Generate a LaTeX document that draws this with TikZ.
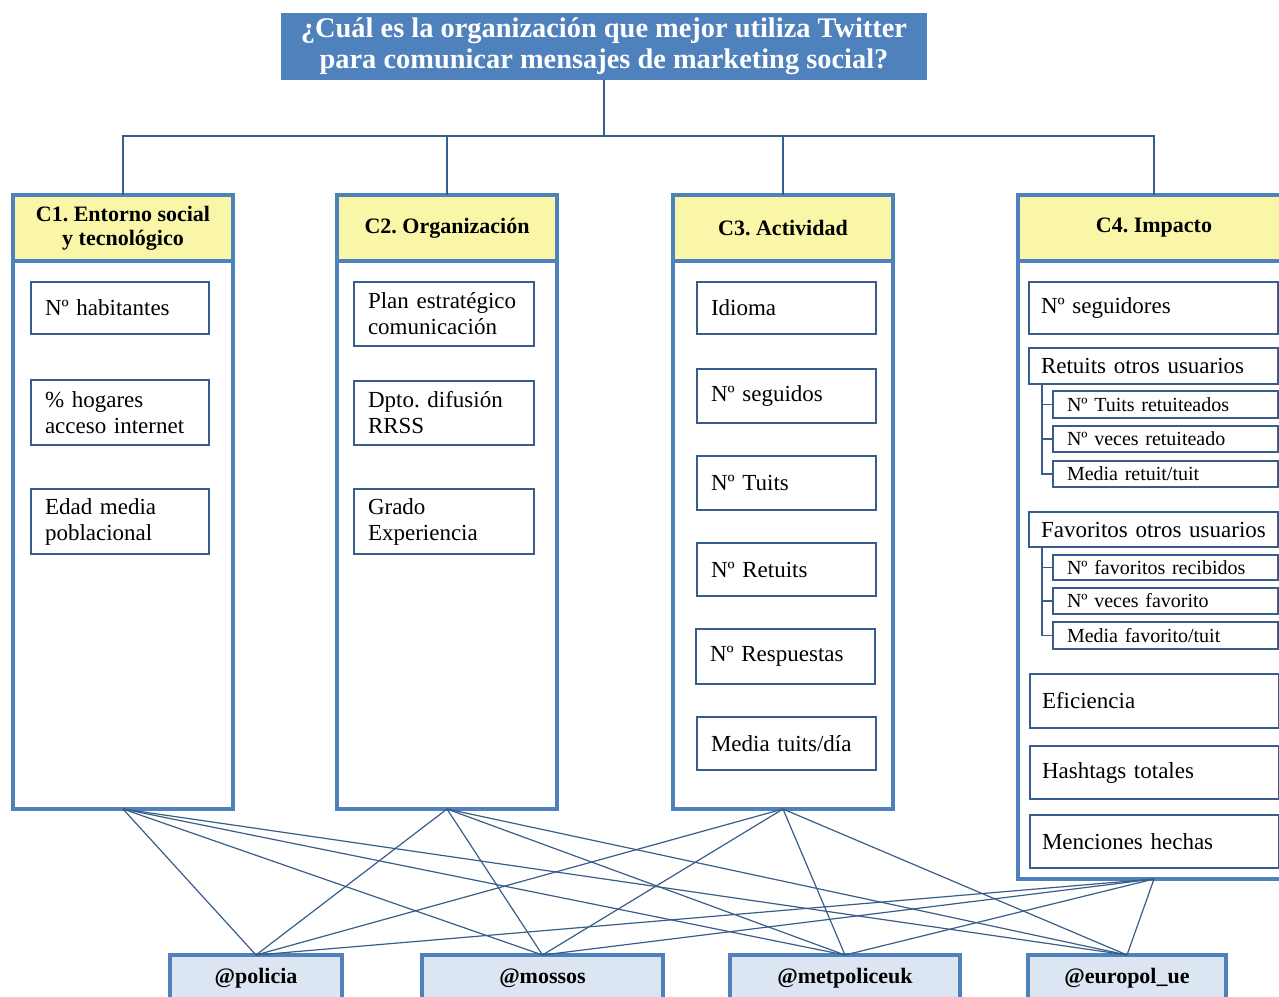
\documentclass[tikz,border=0pt]{standalone}
\usepackage{fontspec}
\setmainfont{Liberation Serif}
\usepackage{tikz}
\definecolor{titleblue}{RGB}{79,129,189}
\definecolor{lineblue}{RGB}{56,93,138}
\definecolor{headyellow}{RGB}{249,246,168}
\definecolor{twblue}{RGB}{220,230,242}
\frenchspacing

\begin{document}
\begin{tikzpicture}[x=0.5pt, y=-0.5pt,
	title/.style={fill=titleblue, text=white, font=\bfseries\fontsize{14.2}{15.5}\selectfont, align=center, anchor=north west, inner sep=0pt, outer sep=0pt},
	col/.style={draw=titleblue, line width=2pt, anchor=north west, minimum width=110pt, inner sep=0pt, outer sep=0pt},
	head/.style={draw=titleblue, line width=2pt, fill=headyellow, font=\bfseries\fontsize{11}{12}\selectfont, align=center, anchor=north west, minimum width=110pt, minimum height=33pt, inner sep=0pt, outer sep=0pt},
	item/.style={draw=lineblue, line width=0.7pt, font=\fontsize{11.5}{13}\selectfont, align=left, anchor=north west, inner xsep=7pt, inner ysep=0pt, outer sep=0pt},
	bigitem/.style={item, inner xsep=6pt, text width=112.5pt},
	subitem/.style={item, font=\fontsize{10}{11}\selectfont, text width=98.5pt},
	twbox/.style={draw=titleblue, line width=2pt, fill=twblue, font=\bfseries\fontsize{11}{13}\selectfont, anchor=north west, minimum height=23pt, inner sep=0pt, outer sep=0pt},
	trunk/.style={draw=lineblue, line width=1.4pt},
	tree/.style={draw=lineblue, line width=0.7pt},
	link/.style={draw=lineblue, line width=0.6pt}]
\clip (0,0) rectangle (1279,996);

% objetivo
\node[title, minimum width=323pt, minimum height=33.5pt] (q) at (281,13) {¿Cuál es la organización que mejor utiliza Twitter\\para comunicar mensajes de marketing social?};

% criterios
\node[col, minimum height=307pt] (c1) at (13,195) {};
\node[col, minimum height=307pt] (c2) at (337,195) {};
\node[col, minimum height=307pt] (c3) at (673,195) {};
\node[col, minimum width=136pt, minimum height=342pt] (c4) at (1018,195) {};
\node[head] (h1) at (13,195) {C1. Entorno social\\y tecnológico};
\node[head] (h2) at (337,195) {C2. Organización};
\node[head] (h3) at (673,195) {C3. Actividad};
\node[head, minimum width=136pt] (h4) at (1018,195) {C4. Impacto};

\coordinate (bus) at (604,136);
\draw[trunk] (q.south) -- (bus);
\foreach \h in {h1,h2,h3,h4}
	\draw[trunk] (bus) -| (\h.north);

% C1
\node[item, text width=75pt, minimum height=26pt] (hab) at (31,282) {Nº habitantes};
\node[item, text width=75pt, minimum height=32.5pt] (hog) at (31,380) {\% hogares\\acceso internet};
\node[item, text width=75pt, minimum height=32.5pt] (edad) at (31,489) {Edad media\\poblacional};

% C2
\node[item, text width=76pt, minimum height=32pt] (plan) at (354,282) {Plan estratégico\\comunicación};
\node[item, text width=76pt, minimum height=32pt] (dpto) at (354,381) {Dpto. difusión\\RRSS};
\node[item, text width=76pt, minimum height=32.5pt] (grado) at (354,489) {Grado\\Experiencia};

% C3
\node[item, text width=75.5pt, minimum height=26pt] (idioma) at (697,282) {Idioma};
\node[item, text width=75.5pt, minimum height=27pt] (seguidos) at (697,369) {Nº seguidos};
\node[item, text width=75.5pt, minimum height=27pt] (tuits) at (697,456) {Nº Tuits};
\node[item, text width=75.5pt, minimum height=26.5pt] (retuits) at (697,543) {Nº Retuits};
\node[item, text width=75.5pt, minimum height=27.5pt] (resp) at (696,629) {Nº Respuestas};
\node[item, text width=75.5pt, minimum height=26.5pt] (media) at (697,717) {Media tuits/día};

% C4
\node[bigitem, minimum height=26pt] (seguidores) at (1029,282) {Nº seguidores};
\node[bigitem, minimum height=18pt] (ret) at (1029,348) {Retuits otros usuarios};
\node[subitem, minimum height=13.5pt] (r1) at (1053,391) {Nº Tuits retuiteados};
\node[subitem, minimum height=13pt] (r2) at (1053,426) {Nº veces retuiteado};
\node[subitem, minimum height=13pt] (r3) at (1053,461) {Media retuit/tuit};
\node[bigitem, minimum height=17.5pt] (fav) at (1029,512) {Favoritos otros usuarios};
\node[subitem, minimum height=12.5pt] (f1) at (1053,555) {Nº favoritos recibidos};
\node[subitem, minimum height=13pt] (f2) at (1053,588) {Nº veces favorito};
\node[subitem, minimum height=13.5pt] (f3) at (1053,622) {Media favorito/tuit};
\node[bigitem, minimum height=27pt] (efi) at (1030,674) {Eficiencia};
\node[bigitem, minimum height=26.5pt] (hash) at (1030,746) {Hashtags totales};
\node[bigitem, minimum height=26.5pt] (menc) at (1030,815) {Menciones hechas};

\foreach \s in {r1,r2,r3}
	\draw[tree] ([xshift=6.5pt]ret.south west) |- (\s.west);
\foreach \s in {f1,f2,f3}
	\draw[tree] ([xshift=6.5pt]fav.south west) |- (\s.west);

% alternativas
\node[twbox, minimum width=86pt] (policia) at (170,955) {@policia};
\node[twbox, minimum width=120.5pt] (mossos) at (422,955) {@mossos};
\node[twbox, minimum width=115pt] (metpol) at (730,955) {@metpoliceuk};
\node[twbox, minimum width=99pt] (europol) at (1028,955) {@europol\_ue};

\foreach \c in {c1,c2,c3,c4}
	\foreach \t in {policia,mossos,metpol,europol}
		\draw[link] (\c.south) -- (\t.north);
\end{tikzpicture}
\end{document}
